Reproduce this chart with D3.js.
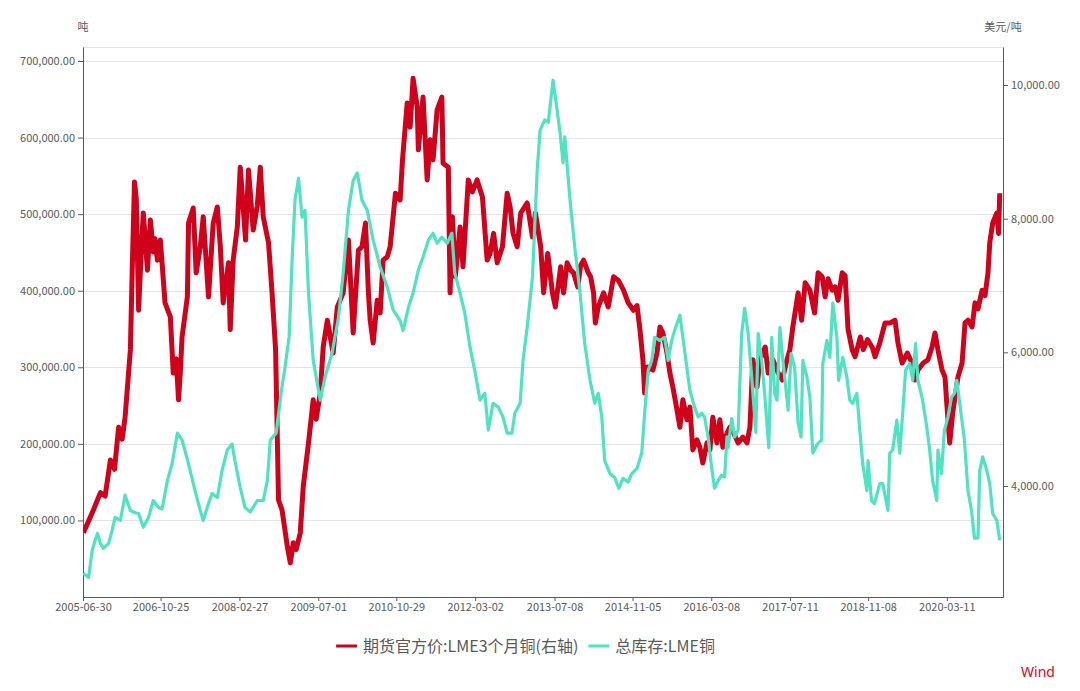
<!DOCTYPE html>
<html><head><meta charset="utf-8">
<script src="https://cdn.jsdelivr.net/npm/d3@7"></script>
<style>
body{margin:0;background:#fff}
svg{display:block}
text{font-family:"Noto Sans CJK SC","Microsoft YaHei","Noto Sans",sans-serif}
</style>
</head><body>
<svg id="chart" width="1080" height="691"></svg>
<script>
// ---------- DATA ----------
const seriesNames = ["期货官方价:LME3个月铜(右轴)", "总库存:LME铜"];
const leftUnit = "吨";
const rightUnit = "美元/吨";
const dateTicks = ["2005-06-30","2006-10-25","2008-02-27","2009-07-01","2010-10-29","2012-03-02","2013-07-08","2014-11-05","2016-03-08","2017-07-11","2018-11-08","2020-03-11"];
const leftTicks = [100000,200000,300000,400000,500000,600000,700000];
const rightTicks = [4000,6000,8000,10000];
const xStart = "2005-06-30", xEnd = "2021-02-23";
const leftDomain = [0, 718300];
const rightDomain = [2339, 10569];

// LME 3-month copper price (USD/t), time as decimal year
const priceYears = [2005.50,2005.62,2005.67,2005.79,2005.87,2005.96,2006.03,2006.10,2006.16,2006.21,
2006.30,2006.33,2006.37,2006.40,2006.44,2006.49,2006.52,2006.59,2006.64,2006.69,
2006.72,2006.76,2006.81,2006.89,2006.98,2007.03,2007.08,2007.12,2007.15,2007.18,
2007.27,2007.29,2007.37,2007.42,2007.49,2007.54,2007.63,2007.71,2007.78,2007.83,
2007.88,2007.97,2008.00,2008.05,2008.12,2008.17,2008.26,2008.31,2008.39,2008.46,
2008.51,2008.56,2008.65,2008.71,2008.77,2008.82,2008.88,2008.97,2009.02,2009.07,
2009.12,2009.19,2009.24,2009.33,2009.41,2009.46,2009.53,2009.58,2009.65,2009.70,
2009.75,2009.82,2009.92,2010.01,2010.09,2010.18,2010.24,2010.30,2010.35,2010.38,
2010.43,2010.50,2010.55,2010.60,2010.67,2010.72,2010.81,2010.89,2010.93,2011.01,
2011.06,2011.11,2011.18,2011.20,2011.28,2011.35,2011.40,2011.45,2011.52,2011.60,
2011.62,2011.71,2011.74,2011.78,2011.83,2011.91,2011.96,2012.05,2012.12,2012.20,
2012.29,2012.37,2012.42,2012.48,2012.54,2012.63,2012.71,2012.76,2012.81,2012.88,
2012.94,2013.05,2013.14,2013.19,2013.28,2013.33,2013.40,2013.48,2013.53,2013.62,
2013.67,2013.73,2013.79,2013.84,2013.91,2013.96,2014.01,2014.09,2014.13,2014.18,
2014.21,2014.26,2014.35,2014.43,2014.52,2014.60,2014.69,2014.77,2014.86,2014.92,
2014.97,2015.02,2015.05,2015.10,2015.19,2015.26,2015.31,2015.36,2015.43,2015.48,
2015.53,2015.60,2015.65,2015.70,2015.77,2015.82,2015.87,2015.94,2015.99,2016.04,
2016.11,2016.16,2016.21,2016.28,2016.33,2016.38,2016.45,2016.50,2016.57,2016.64,
2016.72,2016.79,2016.84,2016.89,2016.96,2017.01,2017.10,2017.15,2017.23,2017.32,
2017.39,2017.47,2017.52,2017.57,2017.66,2017.72,2017.78,2017.86,2017.94,2018.00,
2018.07,2018.12,2018.17,2018.24,2018.29,2018.34,2018.41,2018.46,2018.51,2018.58,
2018.63,2018.72,2018.77,2018.84,2018.92,2018.97,2019.05,2019.14,2019.23,2019.31,
2019.36,2019.43,2019.52,2019.60,2019.65,2019.70,2019.79,2019.87,2019.94,2019.99,
2020.04,2020.11,2020.16,2020.19,2020.24,2020.29,2020.38,2020.45,2020.50,2020.55,
2020.62,2020.67,2020.72,2020.79,2020.84,2020.89,2020.92,2020.97,2021.04,2021.07,
2021.09];
const priceValues = [3300,3540,3640,3900,3850,4390,4250,4880,4700,5030,
6040,7190,8550,8300,6630,7600,8085,7230,7980,7500,
7700,7380,7680,6740,6530,5690,5900,5290,5700,6230,
6830,7935,8160,7190,7580,8030,6830,7935,8175,7600,
6740,7340,6340,7380,7875,8770,7680,8730,7830,8200,
8770,8030,7640,6890,6040,3790,3640,3090,2850,3150,
3050,3300,3990,4645,5290,5000,5390,6080,6480,6230,
5990,6680,6890,7680,6290,7530,7580,7935,6890,6480,
6140,6780,6590,7380,7430,7580,8380,8280,8880,9730,
9370,10100,9670,9030,9820,8580,9180,8880,9630,9820,
8830,8770,6890,8030,7130,7875,7280,8580,8400,8580,
8325,7380,7480,7780,7340,7580,8380,8175,7780,7580,
8085,8235,7725,8085,7580,6890,7480,6890,6680,7280,
6890,7340,7230,7190,6980,7300,7380,7190,7130,6890,
6440,6680,6890,6680,7130,7080,6930,6740,6630,6700,
6340,5890,5390,5780,5735,5990,6380,6290,5990,5690,
5480,5140,4880,5290,4990,5180,4540,4690,4580,4345,
4645,4540,5030,4645,4990,4580,4790,4880,4780,4645,
4730,4645,4880,5890,5480,5890,6080,5690,5890,5690,
5585,5890,6040,6380,6890,6480,7040,6930,6590,7190,
7130,6830,7100,6930,6980,6780,7190,7150,6340,6040,
5935,6230,6040,6190,6080,5935,6140,6440,6440,6480,
6140,5840,5990,5840,5585,5735,5840,5890,6080,6290,
6040,5735,5630,5240,4645,5090,5630,5840,6440,6480,
6380,6740,6650,6930,6850,7190,7640,7935,8085,7780,
8380];

// LME copper total stocks (t), time as decimal year
const stockYears = [2005.50,2005.59,2005.65,2005.70,2005.74,2005.79,2005.84,2005.93,2005.99,2006.04,
2006.13,2006.21,2006.30,2006.38,2006.44,2006.52,2006.61,2006.69,2006.78,2006.84,
2006.93,2007.01,2007.10,2007.18,2007.29,2007.40,2007.49,2007.54,2007.63,2007.69,
2007.78,2007.86,2007.95,2008.03,2008.08,2008.17,2008.25,2008.34,2008.46,2008.56,
2008.63,2008.68,2008.78,2008.87,2008.93,2009.00,2009.05,2009.10,2009.16,2009.22,
2009.27,2009.33,2009.41,2009.53,2009.61,2009.73,2009.84,2009.92,2010.01,2010.09,
2010.16,2010.24,2010.33,2010.43,2010.55,2010.67,2010.77,2010.89,2010.94,2011.03,
2011.11,2011.20,2011.28,2011.37,2011.45,2011.52,2011.60,2011.69,2011.77,2011.82,
2011.91,2011.99,2012.08,2012.16,2012.25,2012.33,2012.39,2012.47,2012.56,2012.64,
2012.71,2012.79,2012.84,2012.93,2012.98,2013.05,2013.14,2013.22,2013.27,2013.35,
2013.41,2013.49,2013.56,2013.61,2013.66,2013.69,2013.78,2013.86,2013.95,2014.03,
2014.12,2014.20,2014.26,2014.32,2014.37,2014.46,2014.54,2014.61,2014.68,2014.77,
2014.83,2014.92,2015.00,2015.05,2015.11,2015.17,2015.22,2015.31,2015.39,2015.45,
2015.51,2015.56,2015.65,2015.73,2015.82,2015.90,2015.96,2016.02,2016.07,2016.13,
2016.19,2016.24,2016.30,2016.36,2016.41,2016.45,2016.47,2016.53,2016.58,2016.64,
2016.70,2016.75,2016.81,2016.87,2016.94,2016.98,2017.04,2017.09,2017.16,2017.21,
2017.26,2017.30,2017.35,2017.40,2017.49,2017.54,2017.60,2017.66,2017.71,2017.74,
2017.81,2017.86,2017.91,2018.00,2018.06,2018.08,2018.15,2018.20,2018.25,2018.32,
2018.35,2018.42,2018.49,2018.54,2018.59,2018.66,2018.71,2018.76,2018.83,2018.85,
2018.91,2018.96,2019.05,2019.10,2019.19,2019.22,2019.27,2019.34,2019.39,2019.44,
2019.49,2019.56,2019.61,2019.66,2019.70,2019.78,2019.85,2019.90,2019.95,2020.02,
2020.04,2020.10,2020.15,2020.21,2020.27,2020.32,2020.36,2020.44,2020.49,2020.55,
2020.61,2020.66,2020.72,2020.75,2020.80,2020.87,2020.92,2020.97,2021.04,2021.09];
const stockValues = [30800,25600,61000,74000,83000,70000,63500,70000,87000,104000,
100000,133000,113000,110000,109000,91000,104000,126000,117000,115000,
152000,174000,214000,205000,174000,139000,113000,100000,122000,135000,
130000,165000,192000,200000,178000,143000,117000,111000,126000,126000,
152000,205000,214000,270000,300000,340000,440000,518000,547000,496000,
505000,397000,309000,257000,287000,318000,365000,423000,505000,544000,
554000,518000,505000,466000,431000,405000,375000,361000,348000,378000,
397000,427000,444000,466000,475000,462000,470000,462000,475000,423000,
397000,371000,326000,296000,257000,266000,218000,253000,248000,235000,
214000,214000,240000,253000,309000,352000,418000,557000,610000,623000,
620000,675000,636000,606000,567000,601000,518000,457000,397000,331000,
283000,253000,266000,235000,178000,161000,156000,142000,155000,150000,
161000,168000,188000,240000,296000,309000,339000,335000,339000,309000,
335000,348000,368000,322000,270000,248000,235000,240000,235000,209000,
169000,142000,152000,159000,157000,209000,195000,233000,209000,218000,
344000,377000,344000,287000,215000,344000,309000,266000,195000,339000,
266000,257000,352000,309000,244000,318000,300000,227000,209000,309000,
287000,261000,188000,201000,205000,305000,335000,313000,384000,339000,
283000,313000,287000,257000,253000,266000,218000,174000,139000,178000,
126000,122000,148000,148000,113000,188000,192000,231000,188000,240000,
296000,305000,283000,331000,283000,257000,222000,192000,152000,126000,
192000,161000,218000,235000,261000,266000,283000,235000,205000,139000,
113000,77000,77000,165000,183000,165000,148000,109000,100000,74000];

const colors = {price: "#d0021b", stock: "#50e3c2"};

// ---------- CHART ----------
const W = 1080, H = 691;
const m = {top: 47, right: 77, bottom: 94, left: 83};
const parse = d3.timeParse("%Y-%m-%d");
function yearToDate(y) {
  const Y = Math.floor(y);
  const s = new Date(Y, 0, 1), e = new Date(Y + 1, 0, 1);
  return new Date(+s + (y - Y) * (e - s));
}
const price = priceYears.map((t, i) => ({date: yearToDate(t), v: priceValues[i]}));
const stock = stockYears.map((t, i) => ({date: yearToDate(t), v: stockValues[i]}));

const svg = d3.select("#chart");
const x = d3.scaleTime().domain([parse(xStart), parse(xEnd)]).range([m.left, W - m.right]);
const yL = d3.scaleLinear().domain(leftDomain).range([H - m.bottom, m.top]);
const yR = d3.scaleLinear().domain(rightDomain).range([H - m.bottom, m.top]);

// gridlines
svg.append("g").selectAll("line").data(leftTicks.concat([leftDomain[1]])).join("line")
  .attr("x1", m.left).attr("x2", W - m.right)
  .attr("y1", d => Math.round(yL(d)) + 0.5).attr("y2", d => Math.round(yL(d)) + 0.5)
  .attr("stroke", "#e4e4e4").attr("stroke-width", 1);

function styleAxis(g) {
  g.select(".domain").attr("stroke", "#5a5a5a");
  g.selectAll(".tick line").attr("stroke", "#5a5a5a");
  g.selectAll(".tick text").attr("fill", "#595959").attr("font-size", 11)
    .style("font-family", '"Noto Sans CJK SC","Microsoft YaHei",sans-serif');
}

svg.append("g").attr("transform", `translate(${m.left},0)`)
  .call(d3.axisLeft(yL).tickValues(leftTicks).tickFormat(d3.format(",.2f")).tickSize(5).tickPadding(3).tickSizeOuter(0))
  .call(styleAxis);
svg.append("g").attr("transform", `translate(${W - m.right},0)`)
  .call(d3.axisRight(yR).tickValues(rightTicks).tickFormat(d3.format(",.2f")).tickSize(5).tickPadding(3).tickSizeOuter(0))
  .call(styleAxis);
svg.append("g").attr("transform", `translate(0,${H - m.bottom})`)
  .call(d3.axisBottom(x).tickValues(dateTicks.map(parse)).tickFormat(d3.timeFormat("%Y-%m-%d")).tickSize(4).tickPadding(2).tickSizeOuter(0))
  .call(styleAxis);

// unit labels
svg.append("text").attr("x", m.left).attr("y", 31).attr("text-anchor", "middle")
  .attr("font-size", 11).attr("fill", "#595959").text(leftUnit);
svg.append("text").attr("x", W - m.right).attr("y", 31).attr("text-anchor", "middle")
  .attr("font-size", 11).attr("fill", "#595959").text(rightUnit);

// lines
svg.append("clipPath").attr("id", "clip").append("rect")
  .attr("x", m.left).attr("y", m.top - 5).attr("width", W - m.left - m.right).attr("height", H - m.top - m.bottom + 5);
const plot = svg.append("g").attr("clip-path", "url(#clip)");
plot.append("path").datum(price)
  .attr("d", d3.line().x(d => x(d.date)).y(d => yR(d.v)))
  .attr("fill", "none").attr("stroke", colors.price).attr("stroke-width", 5)
  .attr("stroke-linejoin", "round");
plot.append("path").datum(stock)
  .attr("d", d3.line().x(d => x(d.date)).y(d => yL(d.v)))
  .attr("fill", "none").attr("stroke", colors.stock).attr("stroke-width", 3.2)
  .attr("stroke-linejoin", "round");

// legend
const leg = svg.append("g");
const legY = 646;
let cx = 0;
const items = [{name: seriesNames[0], c: colors.price}, {name: seriesNames[1], c: colors.stock}];
items.forEach((it) => {
  const g = leg.append("g").attr("transform", `translate(${cx},0)`);
  g.append("line").attr("x1", 0).attr("x2", 21).attr("y1", legY).attr("y2", legY)
    .attr("stroke", it.c).attr("stroke-width", 3);
  const t = g.append("text").attr("x", 27).attr("y", legY).attr("dy", "0.35em")
    .attr("font-size", 16).attr("fill", "#595959").text(it.name);
  cx += 27 + t.node().getComputedTextLength() + 10;
});
const total = cx - 10;
leg.attr("transform", `translate(${525.5 - total / 2},0)`);

// watermark
svg.append("text").attr("x", 1021).attr("y", 677).attr("font-size", 14)
  .attr("fill", "#e60012").style("font-family", '"Noto Sans","Open Sans",sans-serif').text("Wind");
</script>
</body></html>
